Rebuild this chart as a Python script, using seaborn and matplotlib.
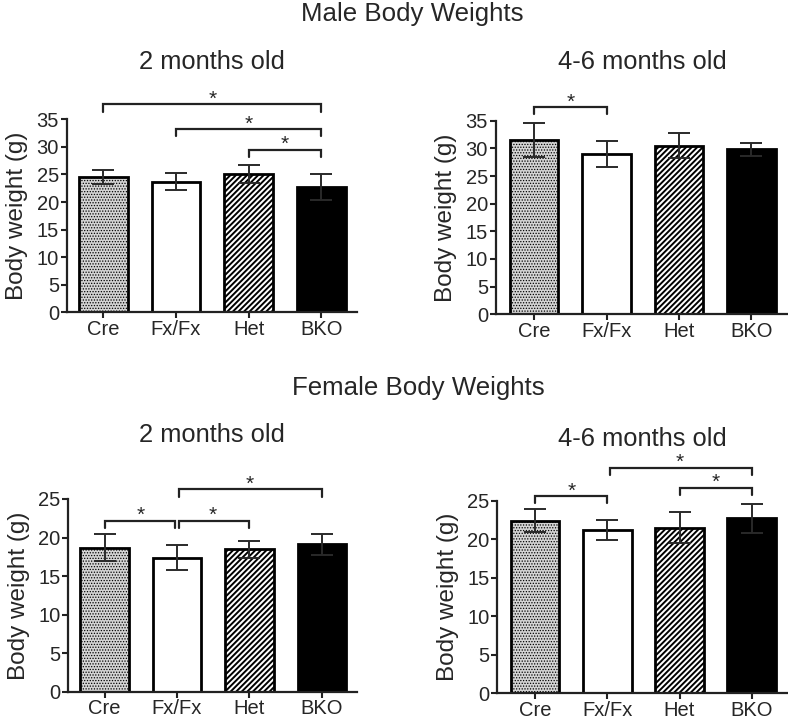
import matplotlib
matplotlib.use("Agg")
import matplotlib.pyplot as plt
import seaborn as sns
import pandas as pd
import numpy as np

sns.set_style("ticks")
plt.rcParams['font.family'] = ['Liberation Sans', 'DejaVu Sans']
plt.rcParams['hatch.linewidth'] = 1.4

categories = ["Cre", "Fx/Fx", "Het", "BKO"]

male_2m_mean = [24.5, 23.7, 25.1, 22.7]
male_2m_err = [1.3, 1.6, 1.6, 2.4]
male_46m_mean = [31.5, 29.0, 30.5, 29.8]
male_46m_err = [3.1, 2.3, 2.2, 1.1]
female_2m_mean = [18.7, 17.4, 18.5, 19.1]
female_2m_err = [1.8, 1.6, 1.1, 1.4]
female_46m_mean = [22.4, 21.2, 21.5, 22.7]
female_46m_err = [1.5, 1.3, 2.0, 1.85]

male_ticks = [0, 5, 10, 15, 20, 25, 30, 35]
female_ticks = [0, 5, 10, 15, 20, 25]

# significance brackets: (from, to, height)
male_2m_sig = [(0, 3, 37.7), (1, 3, 33.3), (2, 3, 29.5)]
male_46m_sig = [(0, 1, 37.4)]
female_2m_sig = [(0, 1, 22.2), (1, 2, 22.2), (1, 3, 26.3)]
female_46m_sig = [(0, 1, 25.6), (2, 3, 26.7), (1, 3, 29.3)]

W, H = 788, 719
fig = plt.figure(figsize=(W / 100, H / 100), dpi=100)


def add_ax(left, right, top, bottom):
    return fig.add_axes([left / W, 1 - bottom / H, (right - left) / W, (bottom - top) / H])


facecolors = ["#d4d4d4", "white", "white", "black"]
hatches = ["......", "", "//////", ""]


def panel(ax, means, errs, ticks, sigs, xlo, drop):
    df = pd.DataFrame({"group": categories, "weight": means})
    sns.barplot(data=df, x="group", y="weight", ax=ax, order=categories,
                width=0.67, errorbar=None, color="white", saturation=1)
    for patch, fc, h in zip(ax.patches, facecolors, hatches):
        patch.set_facecolor(fc)
        patch.set_hatch(h)
        patch.set_edgecolor("black")
        patch.set_linewidth(2)
        if h.startswith("."):
            try:
                patch.set_hatch_linewidth(0.6)
            except Exception:
                pass
    ax.errorbar(np.arange(len(categories)), means, yerr=errs, fmt="none",
                ecolor="#2a2a2a", elinewidth=1.4, capsize=8, capthick=1.4, zorder=3)
    ax.set_xlim(xlo, 3.49)
    ax.set_ylim(0, ticks[-1])
    ax.set_yticks(ticks)
    ax.set_xlabel("")
    ax.set_ylabel("Body weight (g)", fontsize=17.5, labelpad=6)
    ax.tick_params(axis="both", labelsize=14.5, width=1.5, length=4.5, color="#222222", pad=1)
    for s in ["left", "bottom"]:
        ax.spines[s].set_linewidth(1.6)
        ax.spines[s].set_color("#222222")
    sns.despine(ax=ax)
    for (i, j, y) in sigs:
        gap_i = 0.03 if any(b[1] == i for b in sigs) else 0
        gap_j = 0.03 if any(b[0] == j and b[2] == y for b in sigs) else 0
        x0, x1 = i + gap_i, j - gap_j
        ax.plot([x0, x0, x1, x1], [y - drop, y, y, y - drop], color="#222222",
                lw=1.6, clip_on=False, solid_joinstyle="miter")
        ax.annotate("*", xy=((i + j) / 2, y), xytext=(0, -0.5), textcoords="offset points",
                    ha="center", va="baseline", fontsize=15, annotation_clip=False)


ax1 = add_ax(66.7, 357, 119.3, 312.3)
panel(ax1, male_2m_mean, male_2m_err, male_ticks, male_2m_sig, -0.505, 1.4)
ax2 = add_ax(495.7, 787, 120.7, 314.3)
panel(ax2, male_46m_mean, male_46m_err, male_ticks, male_46m_sig, -0.53, 1.1)
ax3 = add_ax(68.3, 357.3, 499, 691.7)
panel(ax3, female_2m_mean, female_2m_err, female_ticks, female_2m_sig, -0.50, 1.0)
ax4 = add_ax(497, 787, 500.7, 693.3)
panel(ax4, female_46m_mean, female_46m_err, female_ticks, female_46m_sig, -0.53, 0.9)

fig.text(412 / W, 1 - 20.7 / H, "Male Body Weights", ha="center", va="baseline", fontsize=18.6)
fig.text(211.5 / W, 1 - 69.3 / H, "2 months old", ha="center", va="baseline", fontsize=18.4)
fig.text(642 / W, 1 - 69.3 / H, "4-6 months old", ha="center", va="baseline", fontsize=18.4)
fig.text(418 / W, 1 - 395 / H, "Female Body Weights", ha="center", va="baseline", fontsize=18.6)
fig.text(211.5 / W, 1 - 442 / H, "2 months old", ha="center", va="baseline", fontsize=18.4)
fig.text(642 / W, 1 - 446 / H, "4-6 months old", ha="center", va="baseline", fontsize=18.4)

fig.savefig("out.png", dpi=100)
